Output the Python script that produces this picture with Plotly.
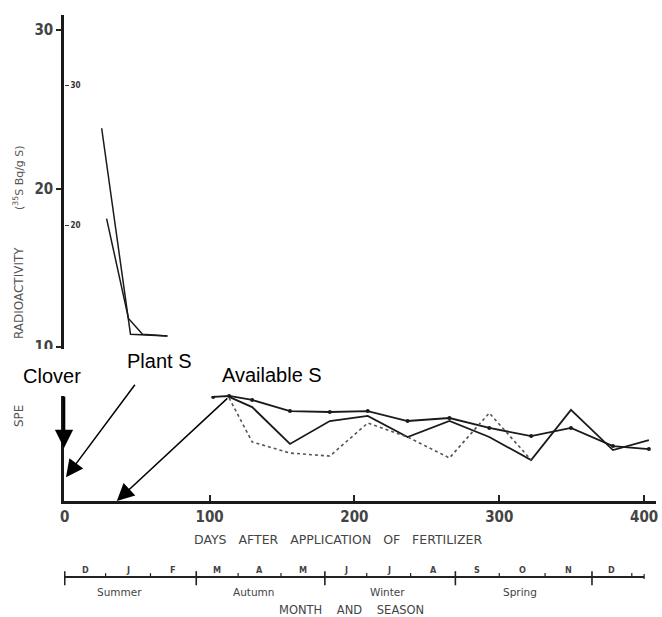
import plotly.graph_objects as go

# ---------------- data ----------------
# upper pair of curves (plant S)
plant_days_1 = [25.5, 44.0, 45.4, 70.9]
plant_vals_1 = [23.8, 12.0, 10.8, 10.7]
plant_days_2 = [28.9, 44.0, 53.7, 70.9]
plant_vals_2 = [18.1, 11.8, 10.8, 10.7]

# lower curves
days_a = [102.5, 113.5, 129.4, 155.5, 183.0, 209.2, 236.7, 265.6, 293.1, 322.0, 349.5, 378.5, 403.3]
series_a = [6.85, 6.91, 6.66, 5.96, 5.90, 5.96, 5.33, 5.52, 4.89, 4.38, 4.89, 3.75, 3.56]
days_b = [113.5, 129.4, 155.5, 183.0, 209.2, 236.7, 265.6, 293.1, 322.0, 349.5, 378.5, 403.3]
series_b = [6.85, 6.21, 3.88, 5.33, 5.65, 4.32, 5.33, 4.32, 2.87, 6.03, 3.50, 4.13]
days_c = [113.5, 129.4, 155.5, 183.0, 209.2, 236.7, 265.6, 293.1, 322.0]
series_c = [6.78, 4.01, 3.31, 3.12, 5.20, 4.32, 3.00, 5.84, 2.87]

x_ticks = [0, 100, 200, 300, 400]
y_ticks = [10, 20, 30]
inner_ticks = [20, 30]

months = ["D", "J", "F", "M", "A", "M", "J", "J", "A", "S", "O", "N", "D"]
month_bounds = [0, 28.2, 59.2, 90.8, 119.7, 149.3, 179.6, 208.5, 238.8, 269.7, 300.0, 331.6, 364.0, 391.5]
season_bounds = [0, 90.8, 179.6, 269.7, 364.0]
month_row_end = 400
seasons = ["Summer", "Autumn", "Winter", "Spring"]
season_pos = [38, 131, 223, 314]

# ---------------- figure ----------------
INK = "#1a1a1a"
TXT = "#444444"
TFONT = "DejaVu Sans Condensed, Liberation Sans Narrow, Arial, sans-serif"
WFONT = "DejaVu Sans, Verdana, sans-serif"
LFONT = "Liberation Sans, Arial, sans-serif"

fig = go.Figure()
line_style = dict(color=INK, width=1.5)
fig.add_trace(go.Scatter(x=plant_days_1, y=plant_vals_1, mode="lines", line=line_style, hoverinfo="skip"))
fig.add_trace(go.Scatter(x=plant_days_2, y=plant_vals_2, mode="lines", line=line_style, hoverinfo="skip"))
fig.add_trace(go.Scatter(x=days_a, y=series_a, mode="lines+markers", line=dict(color=INK, width=1.8),
                         marker=dict(size=4, color=INK), hoverinfo="skip"))
fig.add_trace(go.Scatter(x=days_b, y=series_b, mode="lines", line=dict(color=INK, width=1.8), hoverinfo="skip"))
fig.add_trace(go.Scatter(x=days_c, y=series_c, mode="lines", line=dict(color="#555555", width=1.6, dash="dot"),
                         hoverinfo="skip"))
# carrier for the secondary (inner) scale
fig.add_trace(go.Scatter(x=[], y=[], yaxis="y2", hoverinfo="skip"))

shapes = []
# mask band (white patch in the original)
shapes.append(dict(type="rect", xref="paper", yref="paper", x0=-0.12, x1=0.254, y0=0.216, y1=0.3128,
                   fillcolor="white", line=dict(width=0), layer="above"))
# month & season row
row_y = -0.1564
shapes.append(dict(type="line", xref="x", yref="paper", x0=month_bounds[0], x1=month_row_end, y0=row_y, y1=row_y,
                   line=dict(color="#222", width=1.8)))
for b in month_bounds:
    if b in season_bounds:
        shapes.append(dict(type="line", xref="x", yref="paper", x0=b, x1=b, y0=row_y + 0.012, y1=row_y - 0.017,
                           line=dict(color="#222", width=1.6)))
    else:
        shapes.append(dict(type="line", xref="x", yref="paper", x0=b, x1=b, y0=row_y + 0.008, y1=row_y,
                           line=dict(color="#222", width=1.2)))
shapes.append(dict(type="line", xref="x", yref="paper", x0=month_row_end, x1=month_row_end,
                   y0=row_y + 0.006, y1=row_y - 0.004, line=dict(color="#222", width=1.2)))

C = dict(xanchor="center", yanchor="middle", showarrow=False)
annotations = []
# month letters (centred between boundaries)
edges = month_bounds
for i, m in enumerate(months):
    left = edges[i]
    right = edges[i + 1] if i + 1 < len(edges) else month_row_end
    annotations.append(dict(x=(left + right) / 2, y=row_y + 0.014, xref="x", yref="paper", text=m,
                            font=dict(family=TFONT, size=9, color=TXT, weight="bold"), **C))
for s, p in zip(seasons, season_pos):
    annotations.append(dict(x=p, y=row_y - 0.031, xref="x", yref="paper", text=s,
                            font=dict(family=WFONT, size=10.5, color=TXT), **C))

annotations.append(dict(x=0.463, y=-0.080, xref="paper", yref="paper",
                        text=("\u00a0" * 3).join(["DAYS", "AFTER", "APPLICATION", "OF", "FERTILIZER"]),
                        font=dict(family=WFONT, size=12.5, color=TXT), **C))
annotations.append(dict(x=0.485, y=-0.2235, xref="paper", yref="paper",
                        text=("\u00a0" * 4).join(["MONTH", "AND", "SEASON"]),
                        font=dict(family=WFONT, size=11.5, color=TXT), **C))

# rotated y-title pieces
for txt, yy, fs in [("SPE", 0.175, 12), ("RADIOACTIVITY", 0.428, 12), ("(<sup>35</sup>S Bq/g S)", 0.665, 11)]:
    annotations.append(dict(x=-0.0758, y=yy, xref="paper", yref="paper", text=txt, textangle=-90,
                            font=dict(family=WFONT, size=fs, color="#555555"), **C))

# call-out labels
LBL = dict(family=LFONT, size=20, color="black")
annotations.append(dict(x=-0.0202, y=0.257, xref="paper", yref="paper", text="Clover", font=LBL, **C))
annotations.append(dict(x=0.1608, y=0.288, xref="paper", yref="paper", text="Plant S", font=LBL, **C))
annotations.append(dict(x=0.351, y=0.259, xref="paper", yref="paper", text="Available S", font=LBL, **C))
# arrows
annotations.append(dict(x=0.0, y=0.109, xref="paper", yref="paper", text="", showarrow=True, ax=0, ay=-53,
                        arrowhead=2, arrowsize=1.4, arrowwidth=2.6, arrowcolor="black"))
annotations.append(dict(x=0.0034, y=0.049, xref="paper", yref="paper", text="", showarrow=True, ax=70, ay=-94,
                        arrowhead=2, arrowsize=2.3, arrowwidth=1.5, arrowcolor="black"))
annotations.append(dict(x=0.0892, y=0.0, xref="paper", yref="paper", text="", showarrow=True, ax=112, ay=-104,
                        arrowhead=2, arrowsize=2.3, arrowwidth=1.5, arrowcolor="black"))

fig.update_layout(
    width=662, height=617,
    margin=dict(l=64, r=4, t=15, b=116),
    paper_bgcolor="white", plot_bgcolor="white",
    showlegend=False,
    shapes=shapes, annotations=annotations,
    xaxis=dict(range=[-0.5, 408.2], tickvals=x_ticks, ticks="inside", ticklen=6, tickwidth=1.5, tickcolor="#222",
               showline=True, linewidth=2.6, linecolor=INK, showgrid=False, zeroline=False,
               tickfont=dict(family=TFONT, size=15, color=TXT, weight="bold")),
    yaxis=dict(range=[0.284, 30.946], tickvals=y_ticks, ticks="outside", ticklen=5, tickwidth=1.5, tickcolor="#222",
               showline=True, linewidth=2.6, linecolor=INK, showgrid=False, zeroline=False,
               tickfont=dict(family=TFONT, size=15, color=TXT, weight="bold")),
    yaxis2=dict(range=[0.286, 35.0], overlaying="y", side="right", anchor="free", position=0.0,
                tickvals=inner_ticks, ticks="outside", ticklen=4, tickwidth=1.2, tickcolor="#333",
                showline=False, showgrid=False, zeroline=False,
                tickfont=dict(family=TFONT, size=8, color="#333", weight="bold")),
)

fig.write_html("out.html", config={"displayModeBar": False},
               post_script="document.body.style.margin='0';document.body.style.overflow='hidden';")
